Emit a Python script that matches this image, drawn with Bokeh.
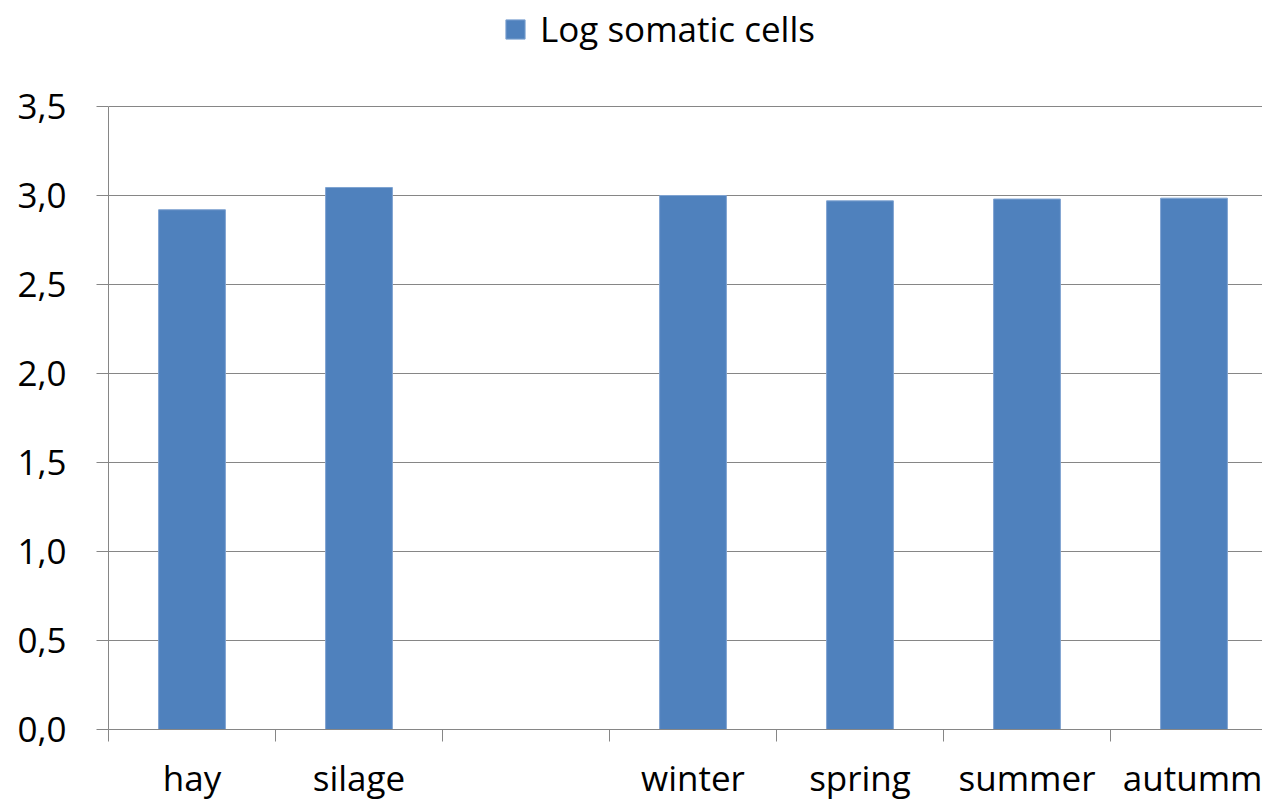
from bokeh.plotting import figure
from bokeh.models import Range1d, FixedTicker, ColumnDataSource, Legend, LegendItem
from bokeh.embed import file_html
from bokeh.resources import INLINE
import numpy as np

categories = ["hay", "silage", "", "winter", "spring", "summer", "autumm"]
values = [2.92, 3.045, None, 3.0, 2.97, 2.98, 2.985]
series_name = "Log somatic cells"
y_ticks = [0.0, 0.5, 1.0, 1.5, 2.0, 2.5, 3.0, 3.5]
y_tick_labels = ["0,0", "0,5", "1,0", "1,5", "2,0", "2,5", "3,0", "3,5"]

FONT = "Open Sans"
FS = "35px"
GRAY = "#868686"
BLUE = "#4F81BD"

W, H = 1262, 805
left = 108
frame_h = 729          # frame from canvas top down to the x axis
axis_top_px = 106      # pixel position of the top tick (3.5)
cat_px = 167.0
y_max = y_ticks[-1]
y_end = y_max * frame_h / (frame_h - axis_top_px)

idx = np.arange(len(categories))
mask = [v is not None for v in values]
src = ColumnDataSource(dict(
    x=[float(i) + 0.5 for i, m in zip(idx, mask) if m],
    top=[v for v in values if v is not None],
))

p = figure(width=W, height=H, output_backend="svg", toolbar_location=None,
           x_range=Range1d(0, (W - left) / cat_px), y_range=Range1d(0, y_end),
           min_border_left=left, min_border_bottom=H - frame_h,
           min_border_top=0, min_border_right=0)
p.outline_line_color = None
p.background_fill_color = "white"
p.border_fill_color = "white"

r = p.vbar(x="x", top="top", width=0.4, bottom=0, source=src,
           fill_color=BLUE, line_color="#7FA3D1", line_width=1)

# y axis
p.yaxis.ticker = FixedTicker(ticks=y_ticks, minor_ticks=[])
p.yaxis.bounds = (0, y_max)
p.yaxis.major_label_overrides = {t: l for t, l in zip(y_ticks, y_tick_labels)}
p.yaxis.axis_line_color = GRAY
p.yaxis.major_tick_line_color = GRAY
p.yaxis.major_tick_out = 12
p.yaxis.major_tick_in = 0
p.yaxis.minor_tick_line_color = None
p.yaxis.major_label_text_font = FONT
p.yaxis.major_label_text_font_size = FS
p.yaxis.major_label_text_color = "black"
p.yaxis.major_label_standoff = 30

# x axis
centers = [float(i) + 0.5 for i in idx]
p.xaxis.ticker = FixedTicker(ticks=centers, minor_ticks=[float(i) for i in range(len(categories) + 1)])
p.xaxis.major_label_overrides = {c: l for c, l in zip(centers, categories)}
p.xaxis.axis_line_color = GRAY
p.xaxis.major_tick_line_color = None
p.xaxis.major_tick_out = 0
p.xaxis.major_tick_in = 0
p.xaxis.minor_tick_line_color = GRAY
p.xaxis.minor_tick_out = 12
p.xaxis.minor_tick_in = 0
p.xaxis.major_label_text_font = FONT
p.xaxis.major_label_text_font_size = FS
p.xaxis.major_label_text_color = "black"
p.xaxis.major_label_standoff = 12

p.xgrid.grid_line_color = None
p.ygrid.grid_line_color = GRAY
p.ygrid.grid_line_width = 1

legend = Legend(items=[LegendItem(label=series_name, renderers=[r])],
                location=(395, frame_h - 52),
                orientation="horizontal",
                label_text_font=FONT, label_text_font_size=FS,
                label_text_color="black",
                glyph_width=24, glyph_height=24, label_standoff=13,
                border_line_color=None, background_fill_alpha=0,
                padding=0, margin=0, spacing=0)
p.add_layout(legend, "center")

open("out.html", "w").write(file_html(p, INLINE))
